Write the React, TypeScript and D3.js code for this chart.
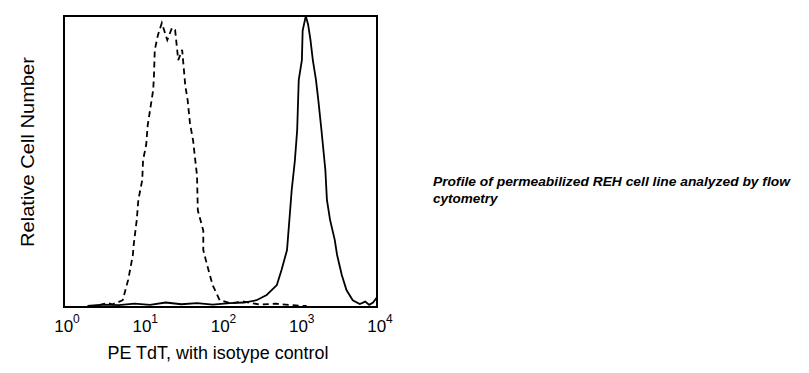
import * as d3 from 'd3'

const W = 809
const H = 373
const BOX = { left: 64, right: 377, top: 16, bottom: 307 }

// log10 fluorescence, relative count (0-100)
const tdtLog = [0.3, 0.5, 0.7, 0.9, 1.1, 1.3, 1.5, 1.7, 1.9, 2.12, 2.3, 2.46, 2.59, 2.72, 2.78, 2.85, 2.89, 2.91, 2.95, 2.98, 3.0, 3.04, 3.05, 3.09, 3.12, 3.15, 3.18, 3.22, 3.25, 3.29, 3.34, 3.36, 3.4, 3.46, 3.49, 3.55, 3.61, 3.69, 3.78, 3.85, 3.9, 3.95, 4.0]
const tdtCount = [0, 0.5, 0.3, 0.8, 0.4, 1.2, 0.6, 1, 0.5, 1, 1.2, 2, 3.8, 7.2, 12.4, 19.3, 33, 40, 50, 60.7, 78, 84.8, 95, 100, 97, 91.7, 84.8, 78, 71, 60.7, 46.9, 36.6, 29.7, 22.8, 17.6, 10.7, 5.5, 2, 0.7, 1.5, 0.4, 1.2, 3]

const isoLog = [0.45, 0.55, 0.62, 0.7, 0.75, 0.82, 0.88, 0.89, 0.93, 0.95, 1.0, 1.01, 1.05, 1.07, 1.1, 1.14, 1.15, 1.16, 1.2, 1.25, 1.32, 1.38, 1.42, 1.46, 1.51, 1.55, 1.58, 1.61, 1.65, 1.67, 1.7, 1.71, 1.78, 1.78, 1.83, 1.9, 1.99, 2.12, 2.3, 2.5, 2.7, 2.9, 3.1]
const isoCount = [0.3, 1, 0.6, 1.4, 2, 9, 17.6, 21, 29.7, 36.6, 43.4, 50.3, 55.5, 62.4, 67.6, 74.5, 79.7, 88.3, 93.4, 97.6, 91.7, 95.9, 95.2, 84.8, 88.3, 76, 71, 63, 57, 52, 45, 33, 26, 19.3, 14, 7.2, 2, 1, 1.5, 0.5, 0.8, 0.3, 0]

const tickExps = [0, 1, 2, 3, 4]

const xScale = d3.scaleLinear().domain([0, 4]).range([BOX.left, BOX.right])
const yScale = d3.scaleLinear().domain([0, 100]).range([BOX.bottom - 1, BOX.top])

const line = d3
  .line<[number, number]>()
  .x((d) => xScale(d[0]))
  .y((d) => yScale(d[1]))

const font = 'Arial, "Liberation Sans", sans-serif'

export default function App() {
  const tdtPath = line(tdtLog.map((v, i) => [v, tdtCount[i]]))
  const isoPath = line(isoLog.map((v, i) => [v, isoCount[i]]))

  return (
    <svg width={W} height={H} style={{ position: 'absolute', left: 0, top: 0 }}>
      <rect width={W} height={H} fill="#fff" />
      <defs>
        <clipPath id="plot">
          <rect x={BOX.left} y={BOX.top} width={BOX.right - BOX.left} height={BOX.bottom - BOX.top} />
        </clipPath>
      </defs>
      <g clipPath="url(#plot)">
        <path d={isoPath ?? ''} fill="none" stroke="#000" strokeWidth={1.8} strokeDasharray="6 4" />
        <path d={tdtPath ?? ''} fill="none" stroke="#000" strokeWidth={1.8} />
      </g>
      <rect
        x={BOX.left}
        y={BOX.top}
        width={BOX.right - BOX.left}
        height={BOX.bottom - BOX.top}
        fill="none"
        stroke="#000"
        strokeWidth={2}
      />
      {tickExps.map((e) => (
        <text key={e} x={xScale(e) + 3} y={332} textAnchor="middle" fontFamily={font} fontSize={17} fill="#000">
          10
          <tspan dy={-9} fontSize={12}>
            {e}
          </tspan>
        </text>
      ))}
      <text
        x={218}
        y={359}
        textAnchor="middle"
        fontFamily={font}
        fontSize={18}
        textLength={221}
        lengthAdjust="spacingAndGlyphs"
        fill="#000"
      >
        PE TdT, with isotype control
      </text>
      <text
        transform={`translate(34,${152}) rotate(-90)`}
        textAnchor="middle"
        fontFamily={font}
        fontSize={18.5}
        textLength={190}
        lengthAdjust="spacingAndGlyphs"
        fill="#000"
      >
        Relative Cell Number
      </text>
      <g fontFamily={font} fontSize={13.5} fontWeight="bold" fontStyle="italic" fill="#000">
        <text x={433} y={186} textLength={357} lengthAdjust="spacingAndGlyphs">
          Profile of permeabilized REH cell line analyzed by flow
        </text>
        <text x={433} y={203}>cytometry</text>
      </g>
    </svg>
  )
}
